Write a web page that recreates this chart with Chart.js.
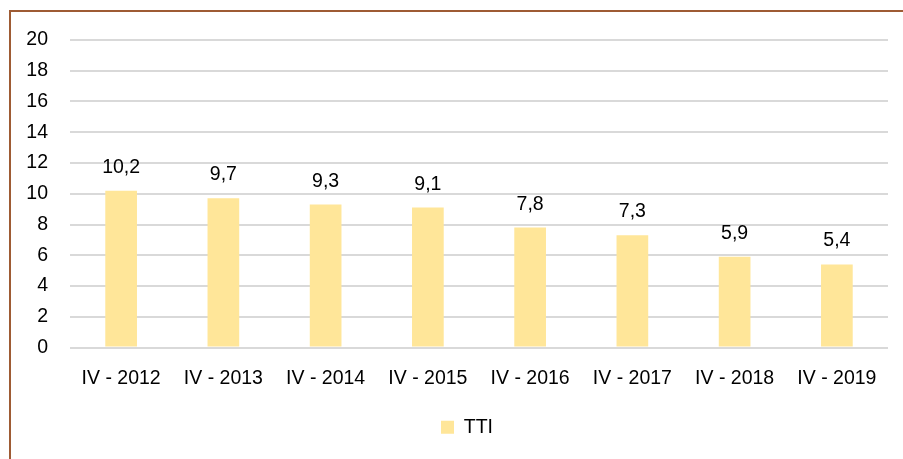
<!DOCTYPE html>
<html>
<head>
<meta charset="utf-8">
<script src="https://cdn.jsdelivr.net/npm/chart.js@4"></script>
<style>
  html, body { margin: 0; padding: 0; background: #fff; }
  #wrap { position: relative; width: 903px; height: 459px; overflow: hidden; }
  #frame { position: absolute; left: 9px; top: 10px; width: 1000px; height: 1000px;
           border-left: 2px solid #9E5B34; border-top: 2px solid #9E5B34; }
  #chart { position: absolute; left: 0; top: 0; }
</style>
</head>
<body>
<div id="wrap">
  <div id="frame"></div>
  <canvas id="chart" width="903" height="459"></canvas>
</div>
<script>
const categories = ['IV - 2012', 'IV - 2013', 'IV - 2014', 'IV - 2015', 'IV - 2016', 'IV - 2017', 'IV - 2018', 'IV - 2019'];
const ttiValues = [10.2, 9.7, 9.3, 9.1, 7.8, 7.3, 5.9, 5.4];
const yTicks = [0, 2, 4, 6, 8, 10, 12, 14, 16, 18, 20];

const fontFamily = '"Liberation Sans", Arial, sans-serif';
const fontSize = 19.5;
Chart.defaults.font.family = fontFamily;
Chart.defaults.font.size = fontSize;
Chart.defaults.color = '#000';

// value labels above bars, decimal comma
const valueLabels = {
    id: 'valueLabels',
    afterDatasetsDraw(chart) {
        const ctx = chart.ctx;
        const meta = chart.getDatasetMeta(0);
        ctx.save();
        ctx.font = fontSize + 'px ' + fontFamily;
        ctx.fillStyle = '#000';
        ctx.textAlign = 'center';
        ctx.textBaseline = 'alphabetic';
        meta.data.forEach((bar, i) => {
            const txt = ttiValues[i].toFixed(1).replace('.', ',');
            ctx.fillText(txt, bar.x, bar.y - 18);
        });
        ctx.restore();
    }
};

// legend sits a little right of the canvas centre in the original
const legendShift = {
    id: 'legendShift',
    beforeDraw(chart) {
        if (chart.legend && !chart.legend._shifted) {
            chart.legend.left += 46;
            chart.legend._shifted = true;
        }
    }
};

new Chart(document.getElementById('chart'), {
    type: 'bar',
    data: {
        labels: categories,
        datasets: [{
            label: 'TTI',
            data: ttiValues,
            backgroundColor: '#FFE699',
            borderWidth: 0,
            barPercentage: 0.31,
            categoryPercentage: 1
        }]
    },
    options: {
        responsive: false,
        animation: false,
        layout: {
            padding: { left: 0, right: 15, top: 40, bottom: 12 }
        },
        scales: {
            x: {
                grid: { display: false, drawTicks: false },
                border: { display: false },
                ticks: { padding: 19, maxRotation: 0, autoSkip: false },
                afterFit(scale) { scale.height = 60; }
            },
            y: {
                min: 0,
                max: 20,
                afterBuildTicks(scale) { scale.ticks = yTicks.map(v => ({ value: v })); },
                grid: { color: '#D9D9D9', lineWidth: 2, drawTicks: false },
                border: { display: false },
                ticks: { padding: 22, autoSkip: false },
                afterFit(scale) { scale.width = 70; }
            }
        },
        plugins: {
            legend: {
                position: 'bottom',
                labels: { boxWidth: 13, boxHeight: 13, padding: 10, font: { size: fontSize } }
            },
            tooltip: { enabled: false }
        }
    },
    plugins: [valueLabels, legendShift]
});
</script>
</body>
</html>
